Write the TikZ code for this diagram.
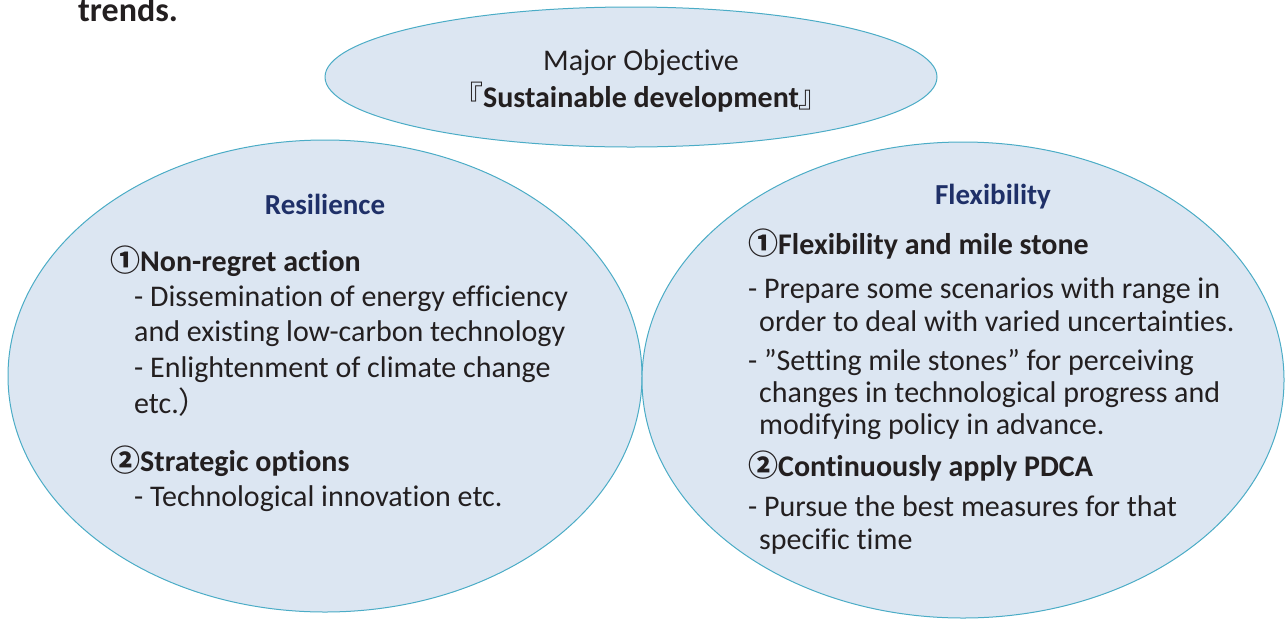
\documentclass[tikz,border=0pt]{standalone}
\usepackage{fontspec}
\setmainfont[Ligatures=NoCommon]{Carlito}
\newfontfamily\cjk{Noto Sans CJK JP}
\usetikzlibrary{shapes.geometric}

\definecolor{bubblefill}{HTML}{DCE6F2}
\definecolor{bubbleline}{HTML}{4BACC6}
\definecolor{headnavy}{HTML}{1F3068}
\definecolor{inktext}{HTML}{231F20}

\newcommand{\one}{{\cjk ①}}
\newcommand{\two}{{\cjk ②}}

\tikzset{
  bubble/.style={ellipse, draw=bubbleline, fill=bubblefill, line width=1pt, inner sep=0pt},
  txt/.style={anchor=base west, inner sep=0pt, text=inktext, font=\fontsize{30}{36}\selectfont},
  head/.style={txt, font=\fontsize{30}{36}\selectfont\bfseries},
  title/.style={anchor=base, inner sep=0pt, text=headnavy, font=\fontsize{29}{35}\selectfont\bfseries}
}

\begin{document}
\begin{tikzpicture}[x=1pt,y=-1pt]
\useasboundingbox (0,0) rectangle (1287,622);

\node[txt, font=\fontsize{34}{40}\selectfont\bfseries] (trends) at (78,21) {trends.};

% the three bubbles
\node[bubble, minimum width=634pt, minimum height=472pt] (resil) at (325,376) {};
\node[bubble, minimum width=642pt, minimum height=476pt] (flex) at (963,380) {};
\node[bubble, minimum width=612pt, minimum height=140pt] (goal) at (631,77) {};

% major objective
\node[txt, anchor=base] (goal1) at (641,70) {Major Objective};
\node[txt, anchor=base] (goal2) at (641,107) {{\cjk 『}\textbf{Sustainable development}{\cjk 』}};

% resilience
\node[title] (rtitle) at (325,214) {Resilience};
\node[head] (r1) at (110,271) {\one Non-regret action};
\node[txt] (r1a) at (134,306) {- Dissemination of energy efficiency};
\node[txt] (r1b) at (134,341) {and existing low-carbon technology};
\node[txt] (r1c) at (134,377) {- Enlightenment of climate change};
\node[txt] (r1d) at (134,413) {etc.{\cjk ）}};
\node[head] (r2) at (110,471) {\two Strategic options};
\node[txt] (r2a) at (134,506) {- Technological innovation etc.};

% flexibility
\node[title] (ftitle) at (993,204) {Flexibility};
\node[head] (f1) at (748,254) {\one Flexibility and mile stone};
\node[txt] (f1a) at (748,298) {- Prepare some scenarios with range in};
\node[txt] (f1b) at (759,331) {order to deal with varied uncertainties.};
\node[txt] (f1c) at (748,370) {- ”Setting mile stones” for perceiving};
\node[txt] (f1d) at (759,402) {changes in technological progress and};
\node[txt] (f1e) at (759,434) {modifying policy in advance.};
\node[head] (f2) at (748,476) {\two Continuously apply PDCA};
\node[txt] (f2a) at (748,516) {- Pursue the best measures for that};
\node[txt] (f2b) at (759,549) {specific time};
\end{tikzpicture}
\end{document}
